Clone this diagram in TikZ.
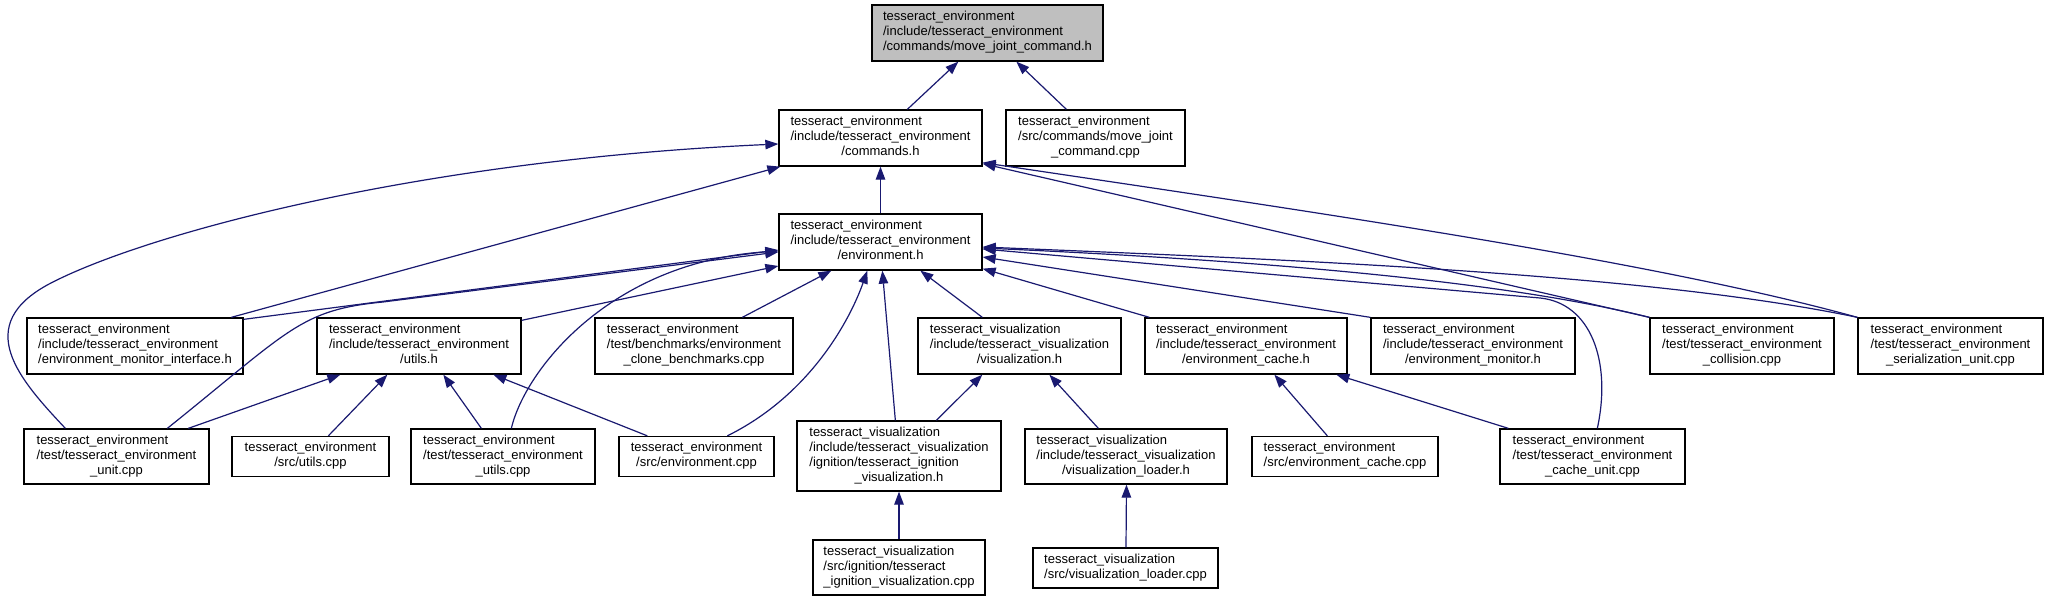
\documentclass[tikz,border=0pt]{standalone}
\usepackage{fontspec}
\setmainfont{Liberation Sans}
\usetikzlibrary{arrows.meta}
\definecolor{edgecol}{HTML}{191970}
\definecolor{topfill}{HTML}{BFBFBF}
\newcommand\dlab[2]{\begin{tabular}{@{}l@{}}#1\\\multicolumn{1}{@{}c@{}}{#2}\end{tabular}}
\begin{document}
\begin{tikzpicture}[x=1pt,y=-1pt,
  box/.style={draw=black, line width=1.3pt, fill=white, inner sep=0pt, anchor=center,
    font=\fontsize{13}{15}\selectfont},
  dep/.style={draw=edgecol, line width=1.2pt, -{Triangle[length=13pt,width=9.5pt]}}]
\useasboundingbox (0,0) rectangle (2046,601);
% row 0
\node[box, fill=topfill, minimum width=231pt, minimum height=56pt] (top) at (987.5,33)
  {\dlab{tesseract\_environment\\/include/tesseract\_environment}{/commands/move\_joint\_command.h}};
% row 1
\node[box, minimum width=203pt, minimum height=56pt] (cmd) at (880.5,138)
  {\dlab{tesseract\_environment\\/include/tesseract\_environment}{/commands.h}};
\node[box, minimum width=179pt, minimum height=56pt] (mvcpp) at (1095.5,138)
  {\dlab{tesseract\_environment\\/src/commands/move\_joint}{\_command.cpp}};
% row 2
\node[box, minimum width=203pt, minimum height=56pt] (env) at (880.5,242)
  {\dlab{tesseract\_environment\\/include/tesseract\_environment}{/environment.h}};
% row 3
\node[box, minimum width=216pt, minimum height=56pt] (moni) at (135,346)
  {\dlab{tesseract\_environment\\/include/tesseract\_environment}{/environment\_monitor\_interface.h}};
\node[box, minimum width=204pt, minimum height=56pt] (utilsh) at (419,346)
  {\dlab{tesseract\_environment\\/include/tesseract\_environment}{/utils.h}};
\node[box, minimum width=198pt, minimum height=56pt] (clone) at (694,346)
  {\dlab{tesseract\_environment\\/test/benchmarks/environment}{\_clone\_benchmarks.cpp}};
\node[box, minimum width=203pt, minimum height=56pt] (vish) at (1019.5,346)
  {\dlab{tesseract\_visualization\\/include/tesseract\_visualization}{/visualization.h}};
\node[box, minimum width=202pt, minimum height=56pt] (ecacheh) at (1246,346)
  {\dlab{tesseract\_environment\\/include/tesseract\_environment}{/environment\_cache.h}};
\node[box, minimum width=204pt, minimum height=56pt] (emon) at (1473,346)
  {\dlab{tesseract\_environment\\/include/tesseract\_environment}{/environment\_monitor.h}};
\node[box, minimum width=184pt, minimum height=56pt] (coll) at (1742,346)
  {\dlab{tesseract\_environment\\/test/tesseract\_environment}{\_collision.cpp}};
\node[box, minimum width=185pt, minimum height=56pt] (ser) at (1950.5,346)
  {\dlab{tesseract\_environment\\/test/tesseract\_environment}{\_serialization\_unit.cpp}};
% row 4
\node[box, minimum width=185pt, minimum height=55pt] (unit) at (116.5,456.5)
  {\dlab{tesseract\_environment\\/test/tesseract\_environment}{\_unit.cpp}};
\node[box, minimum width=157pt, minimum height=40pt] (srcutils) at (310.5,456.5)
  {\dlab{tesseract\_environment}{/src/utils.cpp}};
\node[box, minimum width=184pt, minimum height=55pt] (tutils) at (503,456.5)
  {\dlab{tesseract\_environment\\/test/tesseract\_environment}{\_utils.cpp}};
\node[box, minimum width=155pt, minimum height=40pt] (srcenv) at (696.5,456.5)
  {\dlab{tesseract\_environment}{/src/environment.cpp}};
\node[box, minimum width=204pt, minimum height=70pt] (ignh) at (899,456)
  {\dlab{tesseract\_visualization\\/include/tesseract\_visualization\\/ignition/tesseract\_ignition}{\_visualization.h}};
\node[box, minimum width=202pt, minimum height=55pt] (visloadh) at (1126,456.5)
  {\dlab{tesseract\_visualization\\/include/tesseract\_visualization}{/visualization\_loader.h}};
\node[box, minimum width=186pt, minimum height=40pt] (ecachecpp) at (1345,456.5)
  {\dlab{tesseract\_environment}{/src/environment\_cache.cpp}};
\node[box, minimum width=185pt, minimum height=55pt] (cacheunit) at (1592.5,456.5)
  {\dlab{tesseract\_environment\\/test/tesseract\_environment}{\_cache\_unit.cpp}};
% row 5
\node[box, minimum width=172pt, minimum height=55pt] (igncpp) at (899,567.5)
  {\dlab{tesseract\_visualization\\/src/ignition/tesseract}{\_ignition\_visualization.cpp}};
\node[box, minimum width=185pt, minimum height=40pt] (visloadcpp) at (1125.5,568)
  {\dlab{tesseract\_visualization}{/src/visualization\_loader.cpp}};

% edges into top
\draw[dep] ([xshift=129pt]cmd.north west) -- ([xshift=87pt]top.south west);
\draw[dep] ([xshift=61pt]mvcpp.north west) -- ([xshift=145pt]top.south west);
% edges into commands.h
\draw[dep] (env.north) -- (cmd.south);
\draw[dep] ([xshift=42pt]unit.north west) .. controls (20,380) and (-30,325) .. (51,283)
  .. controls (148,233) and (420,160) .. ([yshift=-6pt]cmd.west);
\draw[dep] ([xshift=205pt]moni.north west) -- ([xshift=2pt]cmd.south west);
\draw[dep] (coll.north west) -- ([yshift=3pt]cmd.south east);
\draw[dep] (ser.north west) .. controls (1650,260) and (1300,210) .. ([yshift=4pt]cmd.south east);
% edges into environment.h
\draw[dep] ([yshift=-2pt]moni.north east) -- ([yshift=-8pt]env.west);
\draw[dep] ([xshift=144pt]unit.north west) .. controls (290,330) and (300,310) .. (383,302)
  -- ([yshift=-10pt]env.west);
\draw[dep] ([xshift=101pt]tutils.north west) .. controls (525,370) and (610,262) .. ([yshift=-9pt]env.west);
\draw[dep] ([yshift=-3pt]utilsh.north east) -- ([yshift=-24pt]env.west);
\draw[dep] ([xshift=148pt]clone.north west) -- ([xshift=53pt]env.south west);
\draw[dep] ([xshift=109pt]srcenv.north west) .. controls (810,395) and (850,320) .. ([xshift=89pt]env.south west);
\draw[dep] ([xshift=99pt]ignh.north west) -- ([xshift=104pt]env.south west);
\draw[dep] ([xshift=65pt]vish.north west) -- ([xshift=142pt]env.south west);
\draw[dep] ([xshift=5pt]ecacheh.north west) -- ([yshift=2pt]env.south east);
\draw[dep] (emon.north west) -- ([yshift=-15pt]env.east);
\draw[dep] (coll.north west) .. controls (1500,280) and (1250,260) .. ([yshift=-6pt]env.east);
\draw[dep] (ser.north west) .. controls (1650,274) and (1300,260) .. ([yshift=-5pt]env.east);
\draw[dep] ([xshift=98pt]cacheunit.north west) .. controls (1612,360) and (1590,303) .. (1540,298)
  -- ([yshift=-7pt]env.east);
% edges into utils.h
\draw[dep] ([xshift=165pt]unit.north west) -- ([xshift=24pt]utilsh.south west);
\draw[dep] ([xshift=97pt]srcutils.north west) -- ([xshift=71pt]utilsh.south west);
\draw[dep] ([xshift=71pt]tutils.north west) -- ([xshift=127pt]utilsh.south west);
\draw[dep] ([xshift=29pt]srcenv.north west) -- ([xshift=177pt]utilsh.south west);
% edges into visualization.h
\draw[dep] ([xshift=140pt]ignh.north west) -- ([xshift=65pt]vish.south west);
\draw[dep] ([xshift=74pt]visloadh.north west) -- ([xshift=132pt]vish.south west);
% edges into environment_cache.h
\draw[dep] ([xshift=76pt]ecachecpp.north west) -- ([xshift=130pt]ecacheh.south west);
\draw[dep] ([xshift=9pt]cacheunit.north west) -- ([xshift=192pt]ecacheh.south west);
% bottom
\draw[dep] (igncpp.north) -- (ignh.south);
\draw[dep] ([xshift=0.5pt]visloadcpp.north) -- ([xshift=0.5pt]visloadh.south);
\end{tikzpicture}
\end{document}
